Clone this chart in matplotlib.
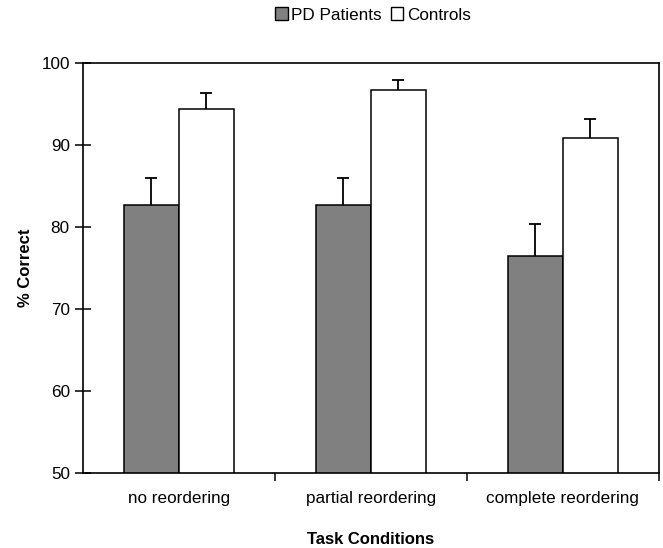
import numpy as np
import matplotlib.pyplot as plt
from matplotlib.patches import Patch

plt.rcParams['font.family'] = ['Liberation Sans', 'DejaVu Sans']

conditions = ["no reordering", "partial reordering", "complete reordering"]
pd_mean = [82.6, 82.6, 76.5]
pd_err = [3.3, 3.4, 3.8]
ctrl_mean = [94.4, 96.7, 90.8]
ctrl_err = [1.9, 1.2, 2.3]

fig = plt.figure(figsize=(6.63, 5.48), dpi=100)
ax = fig.add_axes([0.1252, 0.1369, 0.9935 - 0.1252, 0.8856 - 0.1369])

x = np.arange(len(conditions))
w = 0.287
ax.bar(x - w / 2, pd_mean, w, color='#808080', edgecolor='black', linewidth=1.1)
ax.bar(x + w / 2, ctrl_mean, w, color='white', edgecolor='black', linewidth=1.1)

# upward-only error bars, no cap at the bar top
for xs, m, e in [(x - w / 2, pd_mean, pd_err), (x + w / 2, ctrl_mean, ctrl_err)]:
    eb = ax.errorbar(xs, m, yerr=[np.zeros(3), e], fmt='none', ecolor='black',
                     elinewidth=1.3, capsize=4, capthick=1.3)
    eb.lines[1][0].set_visible(False)

ax.set_xlim(-0.5, 2.5)
ax.set_ylim(50, 100)
ax.set_yticks([50, 60, 70, 80, 90, 100])
ax.set_xticks(x)
ax.set_xticklabels(conditions)
ax.set_xticks([0.5, 1.5, 2.5], minor=True)
ax.tick_params(axis='x', which='major', length=0, pad=13, labelsize=12.3)
ax.tick_params(axis='x', which='minor', length=6, width=1.1, direction='out')
ax.tick_params(axis='y', length=11, width=1.1, direction='inout', pad=4, labelsize=12.3)
for s in ax.spines.values():
    s.set_linewidth(1.2)

ax.set_ylabel("% Correct", fontsize=12, fontweight='bold', labelpad=6)
ax.set_xlabel("Task Conditions", fontsize=12, fontweight='bold', labelpad=19)

handles = [Patch(facecolor='#808080', edgecolor='black', label='PD Patients'),
           Patch(facecolor='white', edgecolor='black', label='Controls')]
fig.legend(handles=handles, loc='center', bbox_to_anchor=(0.5626, 0.9726), ncol=2,
           frameon=False, fontsize=12.3, handlelength=0.75, handleheight=0.75,
           handletextpad=0.2, columnspacing=0.5)

fig.savefig("out.png", dpi=100)
